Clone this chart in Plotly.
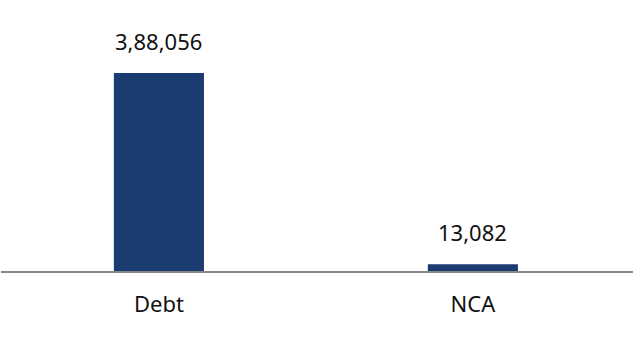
import plotly.graph_objects as go

categories = ["Debt", "NCA"]
values = [388056, 13082]
labels = ["3,88,056", "13,082"]

fig = go.Figure()
fig.add_trace(go.Bar(x=categories, y=values, marker=dict(color="#1A3C70", line=dict(width=0)),
                     hoverinfo="skip"))

for c, v, t in zip(categories, values, labels):
    fig.add_annotation(x=c, y=v, text=t, showarrow=False, yanchor="bottom", yshift=15,
                       font=dict(family="Noto Sans", size=22, color="#111111"))

fig.update_layout(
    width=635, height=347,
    margin=dict(l=1, r=2, t=0, b=76),
    paper_bgcolor="white", plot_bgcolor="white",
    bargap=0.713,
    showlegend=False,
    font=dict(family="Noto Sans", size=22, color="#111111"),
)
fig.update_xaxes(range=[-0.503, 1.51], showline=True, linecolor="#888888", linewidth=2,
                 ticks="", showgrid=False, ticklabelstandoff=13,
                 tickfont=dict(family="Noto Sans", size=22, color="#111111"))
fig.update_yaxes(range=[0, 531100], visible=False, showgrid=False, zeroline=False)

fig.write_html("out.html")
